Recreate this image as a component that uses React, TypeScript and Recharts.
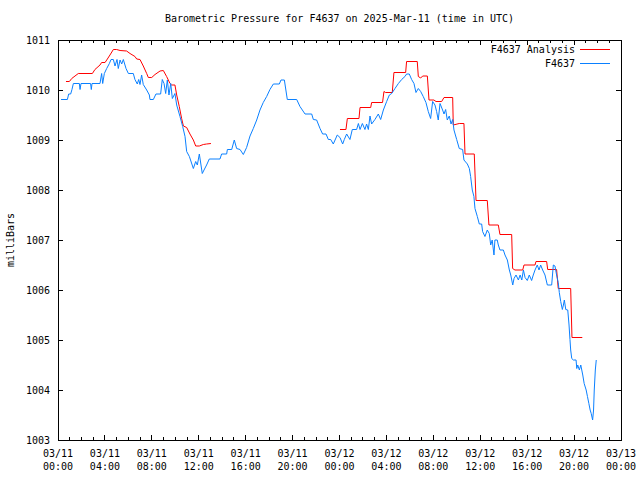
import React from 'react';
import { LineChart, Line, XAxis, YAxis, ReferenceArea, Legend } from 'recharts';

// hours since 03/11 00:00 UTC
const obsHours = [
  0.26, 0.8, 0.91, 1.08, 1.19, 1.31, 1.82, 1.88, 1.96, 2.78, 2.84, 2.9, 3.58, 3.72, 3.81, 3.95, 4.15, 4.38,
  4.52, 4.72, 4.86, 5.03, 5.14, 5.29, 5.43, 5.57, 5.8, 6.0, 6.42, 6.56, 6.76, 6.88, 6.99, 7.13, 7.27, 7.56,
  7.79, 7.84, 8.13, 8.35, 8.75, 8.89, 9.04, 9.18, 9.32, 9.46, 9.61, 9.75, 9.97, 10.12, 10.4, 10.63, 10.83,
  10.97, 11.2, 11.54, 11.74, 11.88, 12.05, 12.3, 12.45, 12.67, 12.9, 13.81, 13.95, 14.38, 14.44, 14.81,
  15.03, 15.23, 15.52, 15.8, 16.08, 16.37, 16.65, 16.94, 17.22, 17.5, 17.79, 18.07, 18.36, 18.87, 19.01,
  19.3, 19.55, 20.35, 20.63, 21.06, 21.63, 21.77, 22.05, 22.34, 22.56, 22.85, 23.05, 23.25, 23.47, 23.81,
  24.04, 24.27, 24.41, 24.61, 24.89, 25.09, 25.46, 25.61, 25.75, 25.95, 26.17, 26.31, 26.46, 26.6, 26.74,
  27.02, 27.31, 27.51, 27.74, 28.02, 28.25, 28.45, 28.73, 29.02, 29.3, 29.58, 29.72, 29.95, 30.15, 30.35,
  30.52, 30.72, 30.92, 31.14, 31.37, 31.57, 31.77, 31.94, 32.14, 32.28, 32.42, 32.57, 32.79, 32.91, 33.05,
  33.19, 33.36, 33.51, 33.65, 33.76, 33.99, 34.21, 34.5, 34.61, 34.9, 35.07, 35.18, 35.32, 35.46, 35.55,
  35.75, 35.92, 36.12, 36.2, 36.4, 36.6, 36.77, 36.89, 37.02, 37.17, 37.25, 37.45, 37.54, 37.68, 37.97,
  38.11, 38.31, 38.48, 38.6, 38.77, 38.88, 39.05, 39.25, 39.4, 39.54, 39.68, 39.82, 40.01, 40.18, 40.38,
  40.52, 40.67, 40.86, 41.01, 41.15, 41.32, 41.52, 41.72, 42.09, 42.23, 42.37, 42.51, 42.65, 42.74, 42.86,
  43.0, 43.09, 43.17, 43.29, 43.46, 43.57, 43.65, 43.71, 43.8, 43.94, 44.17, 44.23, 44.31, 44.45, 44.57,
  44.74, 44.86, 45.03, 45.14, 45.26, 45.37, 45.46, 45.58, 45.66, 45.72, 45.81, 45.89,
];
const obsPressure = [
  1009.81, 1009.81, 1009.92, 1009.92, 1010.01, 1010.13, 1010.13, 1010.01, 1010.13, 1010.13, 1010.01, 1010.13,
  1010.13, 1010.33, 1010.13, 1010.33, 1010.43, 1010.53, 1010.61, 1010.61, 1010.48, 1010.61, 1010.43, 1010.6,
  1010.52, 1010.61, 1010.43, 1010.33, 1010.33, 1010.21, 1010.12, 1010.21, 1010.11, 1010.3, 1010.11, 1010.0,
  1009.9, 1009.81, 1009.81, 1009.92, 1009.92, 1010.21, 1010.13, 1009.93, 1010.2, 1009.9, 1010.13, 1009.83,
  1009.93, 1009.7, 1009.47, 1009.27, 1009.07, 1008.77, 1008.67, 1008.43, 1008.57, 1008.5, 1008.72, 1008.33,
  1008.4, 1008.5, 1008.62, 1008.62, 1008.72, 1008.72, 1008.81, 1008.81, 1009.0, 1008.83, 1008.81, 1008.71,
  1008.85, 1009.08, 1009.23, 1009.4, 1009.6, 1009.75, 1009.87, 1010.01, 1010.12, 1010.12, 1010.2, 1010.2,
  1009.81, 1009.81, 1009.67, 1009.52, 1009.52, 1009.41, 1009.4, 1009.23, 1009.12, 1009.12, 1009.01, 1009.01,
  1008.92, 1009.1, 1009.05, 1008.92, 1009.01, 1009.12, 1009.01, 1009.21, 1009.21, 1009.33, 1009.21, 1009.33,
  1009.21, 1009.32, 1009.21, 1009.48, 1009.32, 1009.41, 1009.52, 1009.41, 1009.6, 1009.77, 1009.9, 1009.93,
  1010.03, 1010.13, 1010.21, 1010.27, 1010.32, 1010.32, 1010.21, 1010.13, 1009.95, 1010.03, 1009.97, 1009.87,
  1009.75, 1009.57, 1009.43, 1009.77, 1009.7, 1009.57, 1009.4, 1009.73, 1009.6, 1009.52, 1009.61, 1009.4,
  1009.48, 1009.32, 1009.41, 1009.2, 1009.01, 1008.83, 1008.81, 1008.6, 1008.52, 1008.43, 1008.27, 1008.0,
  1007.87, 1007.63, 1007.47, 1007.32, 1007.32, 1007.17, 1007.07, 1007.2, 1007.13, 1006.9, 1007.0, 1006.7,
  1007.0, 1007.0, 1006.9, 1006.8, 1006.8, 1006.7, 1006.6, 1006.4, 1006.3, 1006.1, 1006.23, 1006.3, 1006.2,
  1006.3, 1006.2, 1006.4, 1006.25, 1006.19, 1006.3, 1006.19, 1006.3, 1006.4, 1006.5, 1006.4, 1006.5, 1006.4,
  1006.3, 1006.1, 1006.1, 1006.5, 1006.48, 1006.3, 1006.15, 1005.95, 1005.77, 1005.61, 1005.7, 1005.8,
  1005.61, 1005.6, 1005.3, 1005.01, 1004.8, 1004.63, 1004.6, 1004.6, 1004.43, 1004.5, 1004.4, 1004.5, 1004.3,
  1004.13, 1004.0, 1003.87, 1003.73, 1003.6, 1003.53, 1003.4, 1003.6, 1004.0, 1004.4, 1004.6,
];

// analysis has a gap between ~13h and 24h (null)
const anaHours = [
  0.68, 0.97, 1.17, 1.45, 1.73, 2.93, 3.15, 3.58, 3.72, 4.01, 4.21, 4.43, 4.72, 5.0, 5.29, 5.85, 6.14, 6.56,
  6.71, 6.99, 7.27, 7.56, 7.7, 7.99, 8.27, 8.7, 8.98, 9.26, 9.55, 9.69, 9.97, 10.12, 10.34, 10.54, 10.69,
  10.97, 11.25, 11.54, 11.74, 12.05, 12.39, 12.67, 13.04, 18.5, 24.04, 24.55, 24.67, 25.66, 25.75, 26.66,
  26.74, 27.67, 27.79, 27.93, 28.5, 28.64, 29.64, 29.72, 30.63, 30.72, 30.92, 31.09, 31.49, 31.63, 32.05,
  32.23, 32.71, 32.91, 33.65, 33.7, 34.21, 34.61, 34.7, 35.49, 35.64, 36.6, 36.74, 37.54, 37.68, 38.68,
  38.76, 38.96, 39.62, 39.73, 40.67, 40.75, 41.66, 41.75, 42.51, 42.65, 43.71, 43.82, 44.7,
];
const anaPressure = [
  1010.17, 1010.17, 1010.23, 1010.28, 1010.33, 1010.33, 1010.41, 1010.5, 1010.55, 1010.55, 1010.62, 1010.7,
  1010.81, 1010.81, 1010.79, 1010.78, 1010.73, 1010.67, 1010.62, 1010.61, 1010.48, 1010.33, 1010.25, 1010.25,
  1010.31, 1010.38, 1010.39, 1010.27, 1010.13, 1010.1, 1010.1, 1009.9, 1009.67, 1009.43, 1009.28, 1009.25,
  1009.12, 1009.0, 1008.88, 1008.88, 1008.91, 1008.92, 1008.93, null, 1009.21, 1009.21, 1009.43, 1009.43,
  1009.65, 1009.65, 1009.75, 1009.75, 1009.97, 1009.95, 1009.95, 1010.35, 1010.35, 1010.57, 1010.57, 1010.27,
  1010.24, 1010.28, 1010.28, 1009.8, 1009.8, 1009.77, 1009.77, 1009.85, 1009.85, 1009.3, 1009.33, 1009.33,
  1008.72, 1008.72, 1007.79, 1007.79, 1007.3, 1007.3, 1007.11, 1007.11, 1006.43, 1006.4, 1006.4, 1006.5,
  1006.5, 1006.57, 1006.57, 1006.41, 1006.41, 1006.03, 1006.03, 1005.05, 1005.05,
];

const labelHours = [0, 4, 8, 12, 16, 20, 24, 28, 32, 36, 40, 44, 48];
const dayLabels = ['03/11', '03/11', '03/11', '03/11', '03/11', '03/11', '03/12', '03/12', '03/12', '03/12', '03/12', '03/12', '03/13'];
const timeLabels = ['00:00', '04:00', '08:00', '12:00', '16:00', '20:00', '00:00', '04:00', '08:00', '12:00', '16:00', '20:00', '00:00'];
const pressureTicks = [1003, 1004, 1005, 1006, 1007, 1008, 1009, 1010, 1011];

const FONT = '"DejaVu Sans Mono", monospace';
const PLOT_H = 400;
const PLOT_W = 563;
const RED = '#ff0000';
const BLUE = '#0a80ff';

const obsData = obsHours.map((t, i) => ({ t, p: obsPressure[i] }));
const anaData = anaHours.map((t, i) => ({ t, p: anaPressure[i] }));
const hourTicks = Array.from({ length: 49 }, (_, i) => i);

const XTick = (props: any) => {
  const { x, y, payload } = props;
  const h = payload.value;
  const idx = labelHours.indexOf(h);
  const len = idx >= 0 ? 5 : 3;
  const inner = h > 0 && h < 48;
  return (
    <g>
      {inner && <line x1={x} y1={y} x2={x} y2={y - len} stroke="#000" shapeRendering="crispEdges" />}
      {inner && <line x1={x} y1={y - PLOT_H} x2={x} y2={y - PLOT_H + len} stroke="#000" shapeRendering="crispEdges" />}
      {idx >= 0 && (
        <text x={x} y={y + 17} textAnchor="middle" fontFamily={FONT} fontSize={10} fill="#000">
          <tspan x={x}>{dayLabels[idx]}</tspan>
          <tspan x={x} dy={13}>{timeLabels[idx]}</tspan>
        </text>
      )}
    </g>
  );
};

const YTick = (props: any) => {
  const { x, y, payload } = props;
  const v = payload.value;
  const inner = v > 1003 && v < 1011;
  return (
    <g>
      {inner && <line x1={x} y1={y} x2={x + 5} y2={y} stroke="#000" shapeRendering="crispEdges" />}
      {inner && <line x1={x + PLOT_W} y1={y} x2={x + PLOT_W - 5} y2={y} stroke="#000" shapeRendering="crispEdges" />}
      <text x={x - 8} y={y + 4} textAnchor="end" fontFamily={FONT} fontSize={10} fill="#000">
        {v}
      </text>
    </g>
  );
};

const legendItems = [
  { name: 'F4637 Analysis', color: RED },
  { name: 'F4637', color: BLUE },
];

const LegendBox = () => (
  <div style={{ fontFamily: FONT, fontSize: 10, color: '#000' }}>
    {legendItems.map((it) => (
      <div key={it.name} style={{ display: 'flex', justifyContent: 'flex-end', alignItems: 'center', height: 14 }}>
        <span style={{ marginRight: 5 }}>{it.name}</span>
        <span style={{ display: 'inline-block', width: 30, height: 1, background: it.color }} />
      </div>
    ))}
  </div>
);

export default function App() {
  return (
    <div style={{ position: 'absolute', left: 0, top: 0, width: 640, height: 480, background: '#fff' }}>
      <div
        style={{
          position: 'absolute',
          left: 58,
          top: 13,
          width: PLOT_W,
          textAlign: 'center',
          fontFamily: FONT,
          fontSize: 10,
          lineHeight: '12px',
          whiteSpace: 'pre',
        }}
      >
        Barometric Pressure for F4637 on 2025-Mar-11 (time in UTC)
      </div>
      <LineChart width={640} height={480} margin={{ top: 40, right: 19, bottom: 0, left: 8 }}>
        <XAxis
          dataKey="t"
          type="number"
          domain={[0, 48]}
          ticks={hourTicks}
          interval={0}
          height={40}
          tickSize={0}
          tickMargin={0}
          axisLine={false}
          tickLine={false}
          tick={<XTick />}
          allowDataOverflow
        />
        <YAxis
          type="number"
          domain={[1003, 1011]}
          ticks={pressureTicks}
          interval={0}
          width={50}
          tickSize={0}
          tickMargin={0}
          axisLine={false}
          tickLine={false}
          tick={<YTick />}
          allowDataOverflow
          label={{
            content: (p: any) => {
              const vb = p.viewBox || { x: 8, y: 40, height: 400 };
              const cx = vb.x + 2;
              const cy = vb.y + vb.height / 2;
              return (
                <text
                  x={cx}
                  y={cy}
                  transform={`rotate(-90 ${cx} ${cy})`}
                  textAnchor="middle"
                  dominantBaseline="central"
                  fontFamily={FONT}
                  fontSize={10}
                  fill="#000"
                >
                  milliBars
                </text>
              );
            },
          }}
        />
        <ReferenceArea x1={0} x2={48} y1={1003} y2={1011} fill="none" stroke="#000" strokeWidth={1} shapeRendering="crispEdges" />
        <Legend
          layout="vertical"
          align="center"
          verticalAlign="middle"
          content={() => <LegendBox />}
          wrapperStyle={{ position: 'absolute', top: 42, right: 30, left: 'auto', bottom: 'auto', width: 'auto' }}
        />
        <Line
          data={anaData}
          dataKey="p"
          name="F4637 Analysis"
          type="linear"
          stroke={RED}
          strokeWidth={1}
          dot={false}
          connectNulls={false}
          isAnimationActive={false}
        />
        <Line
          data={obsData}
          dataKey="p"
          name="F4637"
          type="linear"
          stroke={BLUE}
          strokeWidth={1}
          dot={false}
          isAnimationActive={false}
        />
      </LineChart>
    </div>
  );
}
